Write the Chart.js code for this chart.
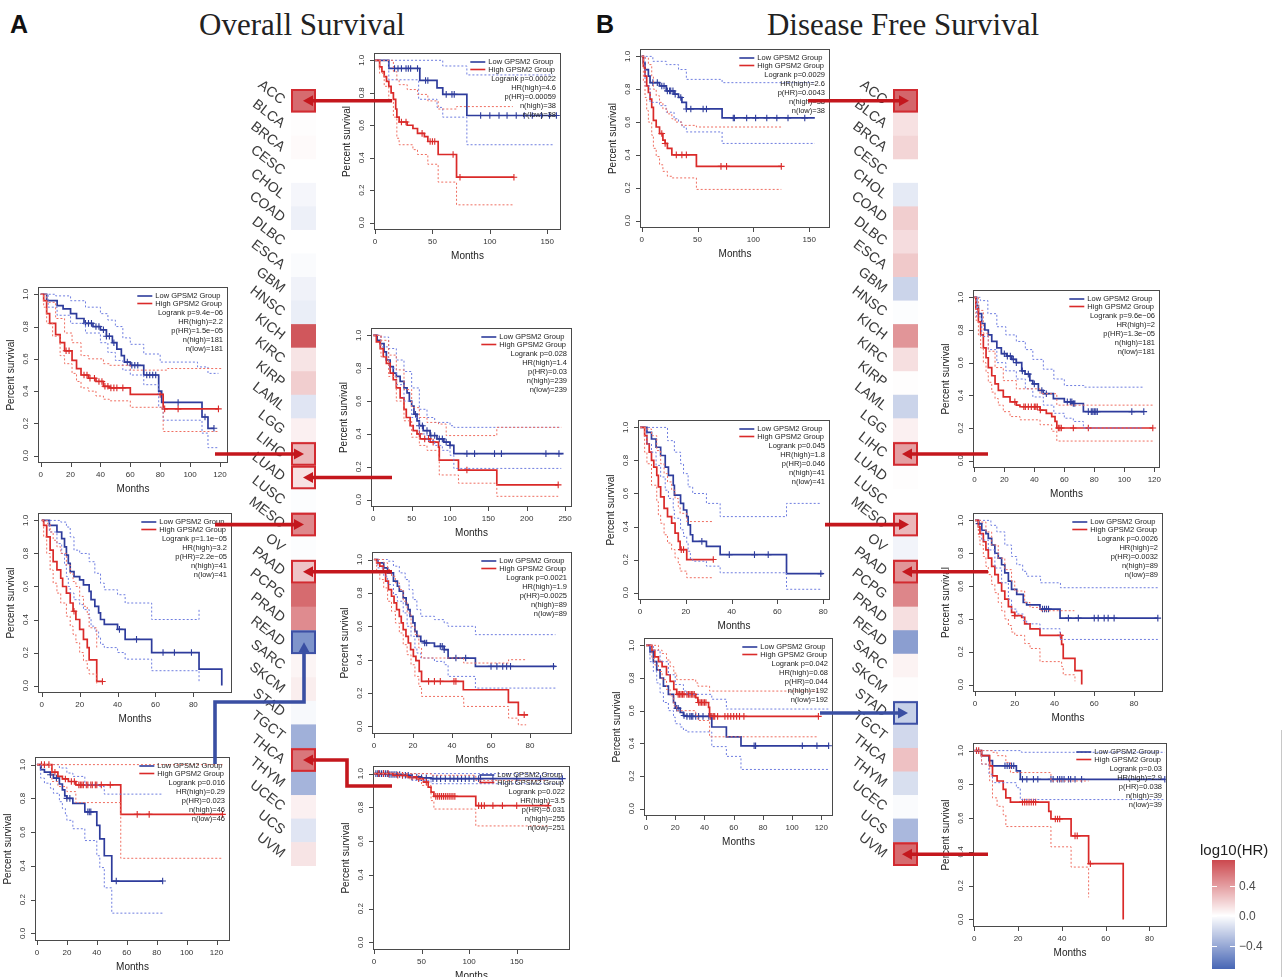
<!DOCTYPE html>
<html><head><meta charset="utf-8">
<script src="https://cdn.jsdelivr.net/npm/chart.js@4.4.1/dist/chart.umd.min.js"></script>
<style>
body{margin:0;background:#fff;}
#page{position:relative;width:1285px;height:977px;overflow:hidden;background:#fff;font-family:"Liberation Sans",Arial,sans-serif;}
#page canvas{position:absolute;}
.t{position:absolute;white-space:nowrap;line-height:1;}
</style></head><body><div id="page">
<div class="t" style="left:10px;top:10px;font:bold 25px 'Liberation Sans';color:#111">A</div>
<div class="t" style="left:102px;top:7px;width:400px;text-align:center;font:31px 'Liberation Serif';color:#222">Overall Survival</div>
<div class="t" style="left:596px;top:10px;font:bold 25px 'Liberation Sans';color:#111">B</div>
<div class="t" style="left:703px;top:7px;width:400px;text-align:center;font:31px 'Liberation Serif';color:#222">Disease Free Survival</div>
</div>
<script>
// ---------- heatmap data ----------
const cancers = ['ACC','BLCA','BRCA','CESC','CHOL','COAD','DLBC','ESCA','GBM','HNSC','KICH','KIRC','KIRP','LAML','LGG','LIHC','LUAD','LUSC','MESO','OV','PAAD','PCPG','PRAD','READ','SARC','SKCM','STAD','TGCT','THCA','THYM','UCEC','UCS','UVM'];
const osLogHR  = [0.6,0.01,0.02,0.0,-0.04,-0.07,0.0,-0.02,-0.06,-0.08,0.68,0.11,0.2,-0.12,0.06,0.29,0.12,-0.01,0.48,-0.01,0.24,0.6,0.47,-0.5,0.04,0.07,-0.03,-0.37,0.55,-0.35,0.06,-0.12,0.11];
const dfsLogHR = [0.62,0.12,0.17,0.0,-0.1,0.2,0.14,0.22,-0.2,-0.01,0.43,0.13,0.01,-0.2,0.06,0.39,0.01,0.0,0.29,-0.05,0.43,0.49,0.13,-0.45,0.05,0.01,-0.22,-0.18,0.25,-0.15,-0.02,-0.33,0.6];
const colorbarTicks = [0.4, 0.0, -0.4];
const osHighlight  = {ACC:'red',LIHC:'red',LUAD:'red',MESO:'red',PAAD:'red',READ:'blue',THCA:'red'};
const dfsHighlight = {ACC:'red',LIHC:'red',MESO:'red',PAAD:'red',STAD:'blue',UVM:'red'};

// ---------- tick labels ----------
const yTicks = [0,0.2,0.4,0.6,0.8,1.0];
const xTicks80 = [0,20,40,60,80];
const xTicks120 = [0,20,40,60,80,100,120];
const xTicks150 = [0,50,100,150];
const xTicks250 = [0,50,100,150,200,250];
const groupNames = ['Low GPSM2 Group','High GPSM2 Group'];

// ---------- OS ACC ----------
const os_ACC_low  = [[0,1],[12,0.95],[39,0.876],[54,0.83],[59,0.79],[80,0.66],[158,0.66]];
const os_ACC_high = [[0,1],[4,0.96],[6,0.93],[8,0.9],[10,0.87],[12,0.84],[14,0.8],[16,0.76],[18,0.7],[19,0.65],[21,0.62],[28,0.6],[33,0.58],[37,0.55],[43,0.53],[46,0.5],[55,0.42],[71,0.28],[121,0.28]];
const os_ACC_lowU = [[0,1],[55,1],[59,0.965],[80,0.91],[155,0.91]];
const os_ACC_lowL = [[0,1],[12,0.88],[38,0.76],[54,0.71],[59,0.65],[80,0.48],[155,0.48]];
const os_ACC_highU = [[0,1],[12,1],[16,0.93],[19,0.88],[21,0.85],[28,0.82],[37,0.79],[46,0.75],[55,0.7],[71,0.715],[120,0.715]];
const os_ACC_highL = [[0,1],[4,0.92],[8,0.84],[12,0.75],[16,0.65],[19,0.52],[21,0.48],[33,0.45],[37,0.42],[46,0.36],[55,0.25],[71,0.11],[120,0.11]];
const os_ACC_lowCens = [17,20,23,27,29,31,37,44,46,62,67,69,92,100,108,115,123,130,137,145,152,158];
const os_ACC_highCens = [23,27,41,48,50,52,68,74,121];
const os_ACC_stats = ['Logrank p=0.00022','HR(high)=4.6','p(HR)=0.00059','n(high)=38','n(low)=38'];

// ---------- OS LIHC ----------
const os_LIHC_low  = [[0,1],[4,0.96],[11,0.93],[15,0.91],[20,0.88],[24,0.85],[29,0.82],[35,0.8],[40,0.78],[44,0.74],[48,0.7],[51,0.66],[54,0.62],[56,0.58],[60,0.56],[69,0.5],[79,0.4],[81,0.33],[108,0.24],[112,0.17],[116,0.17]];
const os_LIHC_high = [[0,1],[2,0.96],[4,0.88],[6,0.82],[10,0.75],[13,0.7],[16,0.65],[21,0.59],[24,0.54],[27,0.5],[32,0.48],[37,0.46],[42,0.43],[46,0.42],[60,0.38],[82,0.29],[119,0.29]];
const os_LIHC_lowU = [[0,1],[10,0.99],[20,0.96],[30,0.92],[40,0.88],[45,0.84],[50,0.8],[55,0.73],[60,0.69],[69,0.63],[80,0.58],[105,0.55],[112,0.51],[119,0.51]];
const os_LIHC_lowL = [[0,1],[5,0.92],[11,0.87],[20,0.82],[30,0.76],[40,0.7],[45,0.64],[50,0.59],[55,0.53],[60,0.5],[69,0.44],[79,0.3],[82,0.22],[108,0.14],[112,0.05],[119,0.05]];
const os_LIHC_highU = [[0,1],[4,0.95],[10,0.85],[16,0.76],[21,0.7],[27,0.62],[32,0.6],[42,0.57],[46,0.56],[60,0.53],[85,0.54],[122,0.54]];
const os_LIHC_highL = [[0,1],[2,0.92],[4,0.82],[8,0.74],[13,0.62],[16,0.57],[21,0.51],[24,0.46],[27,0.42],[32,0.4],[37,0.37],[42,0.35],[46,0.34],[60,0.3],[82,0.15],[119,0.15]];
const os_LIHC_lowCens = [30,32,34,37,39,42,44,46,49,58,61,63,65,71,73,75,77,92,110,116];
const os_LIHC_highCens = [17,19,29,31,33,36,39,41,43,45,47,49,51,55,80,83,92,119];
const os_LIHC_stats = ['Logrank p=9.4e\u221206','HR(high)=2.2','p(HR)=1.5e\u221205','n(high)=181','n(low)=181'];

// ---------- OS LUAD ----------
const os_LUAD_low  = [[0,1],[5,0.97],[9,0.95],[14,0.9],[17,0.85],[22,0.81],[26,0.77],[30,0.75],[35,0.72],[40,0.68],[44,0.65],[47,0.6],[50,0.57],[53,0.52],[57,0.48],[60,0.45],[65,0.42],[74,0.39],[83,0.37],[92,0.35],[100,0.33],[105,0.28],[248,0.28]];
const os_LUAD_high = [[0,1],[4,0.96],[9,0.92],[13,0.87],[17,0.83],[22,0.77],[26,0.73],[30,0.68],[35,0.62],[40,0.55],[43,0.5],[48,0.45],[52,0.42],[57,0.4],[61,0.37],[74,0.35],[85,0.32],[86,0.24],[111,0.18],[161,0.09],[241,0.09]];
const os_LUAD_lowU = [[0,1],[10,0.99],[20,0.92],[30,0.85],[40,0.78],[50,0.68],[60,0.55],[70,0.5],[80,0.47],[100,0.45],[105,0.44],[245,0.44]];
const os_LUAD_lowL = [[0,1],[10,0.93],[20,0.8],[30,0.7],[40,0.6],[50,0.5],[60,0.4],[70,0.36],[80,0.33],[90,0.3],[100,0.27],[105,0.19],[245,0.19]];
const os_LUAD_highU = [[0,1],[10,0.97],[20,0.88],[30,0.79],[40,0.67],[50,0.56],[60,0.5],[70,0.47],[85,0.46],[95,0.39],[161,0.44],[245,0.44]];
const os_LUAD_highL = [[0,1],[10,0.87],[20,0.75],[30,0.6],[40,0.48],[50,0.38],[60,0.33],[70,0.3],[85,0.26],[86,0.15],[111,0.1],[161,0.02],[241,0.02]];
const os_LUAD_lowCens = [55,60,64,70,75,80,86,90,95,100,122,132,158,167,225,242];
const os_LUAD_highCens = [60,67,72,78,122,241];
const os_LUAD_stats = ['Logrank p=0.028','HR(high)=1.4','p(HR)=0.03','n(high)=239','n(low)=239'];

// ---------- OS MESO ----------
const os_MESO_low  = [[0,1],[4,0.97],[8,0.93],[10.5,0.89],[12,0.84],[13,0.79],[14,0.74],[15,0.69],[17,0.66],[20,0.64],[22,0.61],[25,0.57],[26,0.52],[28,0.48],[30,0.44],[31,0.4],[33,0.37],[40,0.34],[44,0.28],[58,0.2],[83,0.1],[95,0]];
const os_MESO_high = [[0,1],[1,0.97],[2.6,0.9],[4.4,0.82],[6,0.75],[8,0.7],[10,0.65],[11,0.6],[13,0.56],[15,0.5],[16.5,0.45],[18,0.4],[20,0.34],[22,0.28],[24,0.23],[25,0.155],[29,0.025],[32,0.025]];
const os_MESO_lowU = [[0,1],[10,0.99],[13,0.96],[15,0.9],[17,0.82],[20,0.8],[25,0.75],[28,0.68],[31,0.62],[33,0.58],[40,0.55],[44,0.5],[58,0.4],[83,0.46]];
const os_MESO_lowL = [[0,1],[4,0.93],[8,0.86],[10.5,0.8],[12,0.73],[13,0.66],[14,0.6],[15,0.56],[17,0.52],[20,0.49],[22,0.46],[25,0.41],[26,0.36],[28,0.33],[30,0.29],[31,0.25],[33,0.23],[40,0.2],[44,0.16],[58,0.09],[83,0.02]];
const os_MESO_highU = [[0,1],[1,1],[3,0.98],[4.4,0.93],[6,0.88],[8,0.84],[10,0.8],[13,0.73],[15,0.68],[16.5,0.63],[18,0.6],[20,0.54],[22,0.48],[24,0.43],[25,0.35],[29,0.23]];
const os_MESO_highL = [[0,1],[1,0.9],[2.6,0.8],[4.4,0.7],[6,0.62],[8,0.56],[10,0.5],[13,0.42],[15,0.36],[16.5,0.31],[18,0.26],[20,0.2],[22,0.15],[24,0.1],[25,0.07],[29,0.0]];
const os_MESO_lowCens = [41,50,64,70,79];
const os_MESO_highCens = [17,32];
const os_MESO_stats = ['Logrank p=1.1e\u221205','HR(high)=3.2','p(HR)=2.2e\u221205','n(high)=41','n(low)=41'];

// ---------- OS PAAD ----------
const os_PAAD_low  = [[0,1],[2,0.98],[5,0.95],[7,0.92],[10,0.87],[12,0.84],[13,0.81],[15,0.77],[16.5,0.73],[17.5,0.7],[18.5,0.66],[20,0.62],[21,0.57],[22,0.54],[24,0.51],[26,0.5],[31,0.48],[36,0.46],[38,0.41],[52,0.36],[93,0.36]];
const os_PAAD_high = [[0,1],[1.4,0.98],[3,0.96],[4.8,0.93],[6,0.87],[7.4,0.82],[9,0.78],[10.3,0.74],[11.6,0.7],[13,0.66],[14,0.62],[15,0.58],[16.4,0.54],[17.6,0.5],[18.8,0.46],[20.2,0.42],[21.5,0.395],[23.2,0.33],[24.4,0.27],[45.8,0.22],[68.9,0.145],[74,0.07],[79,0.07]];
const os_PAAD_lowU = [[0,1],[3,1],[7,0.99],[10,0.96],[13,0.92],[16,0.88],[18,0.82],[20,0.76],[22,0.7],[24,0.66],[31,0.64],[36,0.62],[38,0.6],[52,0.55],[93,0.55]];
const os_PAAD_lowL = [[0,1],[2,0.95],[5,0.9],[7,0.85],[10,0.79],[12,0.75],[15,0.68],[17,0.6],[19,0.54],[21,0.47],[22,0.44],[24,0.41],[31,0.39],[36,0.37],[38,0.3],[52,0.23],[93,0.23]];
const os_PAAD_highU = [[0,1],[3,1],[5,0.98],[7,0.94],[9,0.9],[11,0.86],[13,0.82],[15,0.75],[17,0.68],[19,0.6],[21,0.55],[23,0.47],[24.4,0.41],[46,0.38],[69,0.4],[78,0.4]];
const os_PAAD_highL = [[0,1],[1.4,0.93],[3,0.88],[5,0.83],[7,0.75],[9,0.69],[11,0.62],[13,0.56],[15,0.49],[17,0.43],[19,0.37],[21,0.3],[23,0.24],[24.4,0.18],[46,0.12],[69,0.05],[74,0.01],[78,0.01]];
const os_PAAD_lowCens = [26,27,34,35,36,42,47,60,63,66,68,70,92];
const os_PAAD_highCens = [28,31,34,41,42,77];
const os_PAAD_stats = ['Logrank p=0.0021','HR(high)=1.9','p(HR)=0.0025','n(high)=89','n(low)=89'];

// ---------- OS READ ----------
const os_READ_low  = [[0,1],[2.5,0.97],[5,0.955],[9,0.94],[11,0.92],[15,0.885],[17,0.85],[18.6,0.815],[20,0.8],[24,0.77],[32,0.72],[40,0.64],[42,0.56],[45,0.46],[50,0.31],[84,0.31]];
const os_READ_high = [[0,1],[10,0.955],[14,0.93],[17,0.915],[21,0.9],[26,0.88],[56,0.705],[124,0.705]];
const os_READ_lowU = [[0,1],[11,1],[15,0.98],[20,0.95],[24,0.93],[32,0.88],[42,0.87],[45,0.825],[84,0.825]];
const os_READ_lowL = [[0,1],[2.5,0.92],[5,0.89],[9,0.86],[11,0.83],[15,0.78],[17,0.74],[19,0.7],[20,0.67],[24,0.62],[32,0.55],[40,0.46],[42,0.39],[45,0.27],[50,0.12],[84,0.12]];
const os_READ_highU = [[0,1],[124,1]];
const os_READ_highL = [[0,1],[10,0.9],[14,0.87],[20,0.84],[26,0.775],[56,0.445],[124,0.445]];
const os_READ_lowCens = [9,13,20,22,34,35,36,53,84];
const os_READ_highCens = [3,5,8,12,19,23,25,28,29,30,31,33,34,36,37,39,40,43,49,67,75,124];
const os_READ_stats = ['Logrank p=0.016','HR(high)=0.29','p(HR)=0.023','n(high)=46','n(low)=46'];

// ---------- OS THCA ----------
const os_THCA_low  = [[0,1],[15,0.995],[30,0.99],[40,0.98],[50,0.975],[60,0.97],[198,0.97]];
const os_THCA_high = [[0,1],[20,0.99],[35,0.98],[45,0.97],[52,0.95],[57,0.92],[60,0.89],[63,0.865],[107,0.81],[183,0.81]];
const os_THCA_lowU = [[0,1],[198,1]];
const os_THCA_lowL = [[0,1],[40,0.96],[60,0.94],[198,0.94]];
const os_THCA_highU = [[0,1],[60,0.99],[107,0.96],[183,0.96]];
const os_THCA_highL = [[0,1],[35,0.97],[50,0.93],[60,0.84],[63,0.79],[107,0.69],[183,0.69]];
const os_THCA_lowCens = [2,4,6,8,10,12,14,16,18,20,22,24,27,30,33,36,40,45,50,55,62,66,70,75,80,84,88,92,96,100,105,110,112,125,150,175,198];
const os_THCA_highCens = [5,10,15,25,30,40,47,55,65,67,69,71,73,75,77,79,81,83,85,110,113,116,125,135,150,183];
const os_THCA_stats = ['Logrank p=0.022','HR(high)=3.5','p(HR)=0.031','n(high)=255','n(low)=251'];

// ---------- DFS ACC ----------
const dfs_ACC_low  = [[0,1],[1.5,0.96],[3,0.92],[6,0.88],[7.5,0.84],[16,0.82],[22,0.79],[29,0.77],[33,0.75],[36,0.72],[40,0.68],[72,0.625],[155,0.625]];
const dfs_ACC_high = [[0,1],[1.5,0.94],[3,0.88],[4.5,0.82],[6,0.78],[7.5,0.74],[9,0.69],[10.5,0.61],[13,0.57],[16,0.53],[19,0.49],[21,0.47],[23,0.44],[27,0.4],[49,0.33],[125,0.33]];
const dfs_ACC_lowU = [[0,1],[7,1],[10,0.97],[22,0.95],[33,0.92],[40,0.86],[72,0.84],[155,0.84]];
const dfs_ACC_lowL = [[0,1],[3,0.82],[7.5,0.72],[16,0.7],[22,0.66],[29,0.62],[33,0.6],[36,0.57],[40,0.54],[72,0.47],[155,0.47]];
const dfs_ACC_highU = [[0,1],[3,0.99],[6,0.95],[9,0.88],[10.5,0.8],[13,0.76],[16,0.72],[19,0.68],[23,0.65],[27,0.62],[30,0.6],[36,0.58],[49,0.57],[125,0.57]];
const dfs_ACC_highL = [[0,1],[1.5,0.85],[3,0.75],[4.5,0.67],[6,0.6],[9,0.52],[10.5,0.44],[13,0.39],[16,0.34],[19,0.3],[23,0.27],[27,0.26],[49,0.19],[125,0.19]];
const dfs_ACC_lowCens = [10,14,18,20,23,25,26,28,30,35,40,44,55,58,82,83,94,102,112,121,131,146];
const dfs_ACC_highCens = [18,21,31,36,40,71,76,125];
const dfs_ACC_stats = ['Logrank p=0.0029','HR(high)=2.6','p(HR)=0.0043','n(high)=38','n(low)=38'];

// ---------- DFS LIHC ----------
const dfs_LIHC_low  = [[0,1],[1.5,0.95],[2.7,0.9],[4.9,0.84],[7,0.8],[9.3,0.77],[11.6,0.73],[15,0.69],[18,0.655],[21.6,0.64],[25,0.62],[28,0.6],[31.6,0.55],[33.8,0.53],[37,0.49],[39,0.47],[42.7,0.43],[46,0.41],[52.7,0.38],[60,0.36],[66,0.35],[72.7,0.3],[113,0.3]];
const dfs_LIHC_high = [[0,1],[1,0.93],[2.7,0.85],[4.2,0.77],[6,0.69],[7.8,0.63],[9.3,0.57],[11.6,0.52],[13.8,0.47],[16,0.43],[19.3,0.39],[23.8,0.36],[28,0.34],[30.4,0.33],[43.8,0.31],[48,0.29],[51.6,0.27],[53.8,0.24],[55,0.2],[119,0.2]];
const dfs_LIHC_lowU = [[0,1],[4,0.98],[9,0.9],[15,0.82],[21,0.77],[28,0.73],[34,0.68],[39,0.62],[46,0.56],[53,0.5],[60,0.46],[73,0.45],[113,0.45]];
const dfs_LIHC_lowL = [[0,1],[1.5,0.88],[4.9,0.76],[9.3,0.68],[15,0.6],[21,0.55],[28,0.5],[34,0.44],[39,0.39],[46,0.34],[53,0.29],[60,0.26],[66,0.24],[72.7,0.2],[113,0.2]];
const dfs_LIHC_highU = [[0,1],[2.7,0.92],[6,0.78],[9.3,0.67],[13.8,0.57],[19.3,0.49],[28,0.44],[43.8,0.41],[55,0.34],[119,0.34]];
const dfs_LIHC_highL = [[0,1],[1,0.86],[2.7,0.77],[4.2,0.69],[6,0.6],[7.8,0.54],[9.3,0.48],[11.6,0.42],[13.8,0.38],[16,0.34],[19.3,0.3],[23.8,0.27],[30.4,0.25],[43.8,0.22],[51.6,0.18],[55,0.12],[119,0.12]];
const dfs_LIHC_lowCens = [20,22,24,26,28,32,36,40,45,48,62,64,65,66,67,76,78,79,80,81,82,105,113];
const dfs_LIHC_highCens = [27,33,34,36,38,40,41,42,44,56,57,58,66,76,119];
const dfs_LIHC_stats = ['Logrank p=9.6e\u221206','HR(high)=2','p(HR)=1.3e\u221205','n(high)=181','n(low)=181'];

// ---------- DFS MESO ----------
const dfs_MESO_low  = [[0,1],[3,0.97],[5,0.93],[7,0.88],[9,0.83],[11,0.76],[12.4,0.71],[14.5,0.65],[15,0.59],[17.7,0.54],[19,0.5],[20.4,0.46],[21,0.41],[22,0.35],[23,0.31],[29,0.28],[35,0.23],[64,0.115],[80,0.115]];
const dfs_MESO_high = [[0,1],[2,0.95],[3,0.9],[4,0.85],[5,0.8],[6,0.76],[7.3,0.71],[8,0.64],[9,0.58],[10.5,0.51],[12,0.46],[13.8,0.42],[15.3,0.36],[16.7,0.31],[17.5,0.26],[20.4,0.2],[32,0.2]];
const dfs_MESO_lowU = [[0,1],[9,1],[12,0.92],[15,0.85],[17.7,0.78],[19,0.72],[21,0.64],[23,0.6],[29,0.54],[35,0.46],[64,0.54],[79,0.54]];
const dfs_MESO_lowL = [[0,1],[3,0.9],[5,0.85],[7,0.77],[9,0.7],[11,0.62],[12.4,0.57],[14.5,0.5],[15,0.45],[17.7,0.38],[19,0.34],[20.4,0.3],[21,0.25],[22,0.2],[23,0.19],[29,0.16],[35,0.12],[64,0.02],[79,0.02]];
const dfs_MESO_highU = [[0,1],[3,0.99],[5,0.95],[7.3,0.86],[9,0.78],[10.5,0.72],[12,0.67],[13.8,0.62],[15.3,0.57],[16.7,0.52],[17.5,0.48],[20.4,0.43],[32,0.43]];
const dfs_MESO_highL = [[0,1],[2,0.85],[3,0.78],[5,0.65],[7.3,0.55],[8,0.47],[9,0.42],[10.5,0.35],[12,0.3],[13.8,0.26],[15.3,0.21],[16.7,0.17],[17.5,0.13],[20.4,0.09],[32,0.09]];
const dfs_MESO_lowCens = [27,39,50,56,79];
const dfs_MESO_highCens = [18,19,32];
const dfs_MESO_stats = ['Logrank p=0.045','HR(high)=1.8','p(HR)=0.046','n(high)=41','n(low)=41'];

// ---------- DFS PAAD ----------
const dfs_PAAD_low  = [[0,1],[1.7,0.98],[3.4,0.94],[5.5,0.92],[6.7,0.89],[8.4,0.85],[10,0.8],[11.7,0.77],[13.4,0.73],[15,0.68],[16.8,0.63],[18.4,0.58],[21,0.55],[24.3,0.5],[26,0.485],[32.7,0.46],[42.8,0.405],[92,0.405]];
const dfs_PAAD_high = [[0,1],[1.7,0.96],[2.5,0.92],[4.2,0.87],[5.5,0.82],[6.7,0.77],[8.4,0.72],[10,0.67],[11.7,0.62],[13.4,0.57],[15,0.52],[16.8,0.475],[18.4,0.44],[20,0.42],[23.5,0.41],[25,0.37],[27.7,0.34],[32.7,0.3],[43.6,0.245],[44.4,0.16],[50.3,0.085],[53.7,0]];
const dfs_PAAD_lowU = [[0,1],[5,1],[8,0.97],[11,0.93],[15,0.85],[18.4,0.78],[21,0.73],[24,0.69],[26,0.66],[33,0.62],[43,0.59],[92,0.59]];
const dfs_PAAD_lowL = [[0,1],[1.7,0.94],[3.4,0.88],[6.7,0.82],[10,0.71],[13.4,0.62],[16.8,0.52],[18.4,0.46],[21,0.43],[24.3,0.39],[26,0.37],[32.7,0.34],[42.8,0.275],[92,0.275]];
const dfs_PAAD_highU = [[0,1],[3,0.99],[5.5,0.93],[8.4,0.85],[11.7,0.77],[15,0.7],[18.4,0.63],[20,0.57],[25,0.5],[27.7,0.47],[32.7,0.45],[50,0.45]];
const dfs_PAAD_highL = [[0,1],[1.7,0.9],[2.5,0.85],[4.2,0.78],[5.5,0.72],[6.7,0.67],[8.4,0.61],[10,0.56],[11.7,0.5],[13.4,0.45],[15,0.4],[16.8,0.36],[18.4,0.32],[20,0.3],[25,0.25],[27.7,0.22],[32.7,0.14],[43.6,0.11],[44.4,0.06],[50.3,0.02]];
const dfs_PAAD_lowCens = [2,34,35,36,37,47,52,60,62,65,67,70,92];
const dfs_PAAD_highCens = [20,43];
const dfs_PAAD_stats = ['Logrank p=0.0026','HR(high)=2','p(HR)=0.0032','n(high)=89','n(low)=89'];

// ---------- DFS STAD ----------
const dfs_STAD_low  = [[0,1],[2.7,0.96],[5,0.9],[7.3,0.85],[9.6,0.8],[11.9,0.75],[15.3,0.7],[18.8,0.65],[20,0.615],[23.4,0.59],[25.6,0.57],[28,0.565],[45,0.5],[55,0.44],[65,0.385],[125,0.385]];
const dfs_STAD_high = [[0,1],[4,0.97],[6,0.93],[8.5,0.9],[11,0.87],[14,0.82],[16.5,0.78],[19,0.73],[21,0.7],[34,0.68],[35.5,0.65],[42.8,0.62],[43.5,0.565],[118,0.565]];
const dfs_STAD_lowU = [[0,1],[5,0.97],[9.6,0.9],[15.3,0.82],[20,0.76],[25.6,0.72],[28,0.7],[45,0.67],[55,0.61],[125,0.61]];
const dfs_STAD_lowL = [[0,1],[2.7,0.9],[5,0.84],[7.3,0.77],[9.6,0.71],[11.9,0.65],[15.3,0.6],[18.8,0.56],[20,0.52],[23.4,0.5],[25.6,0.48],[28,0.47],[45,0.38],[55,0.32],[65,0.24],[125,0.24]];
const dfs_STAD_highU = [[0,1],[6,1],[8.5,0.97],[11,0.95],[14,0.91],[16.5,0.87],[19,0.83],[21,0.79],[34,0.77],[35.5,0.75],[43.5,0.72],[118,0.72]];
const dfs_STAD_highL = [[0,1],[4,0.92],[6,0.88],[8.5,0.84],[11,0.79],[14,0.73],[16.5,0.69],[19,0.63],[21,0.6],[34,0.57],[35.5,0.54],[43.5,0.44],[118,0.44]];
const dfs_STAD_lowCens = [21,22,26,28,30,31,32,34,36,39,43,74,75,107,117,125];
const dfs_STAD_highCens = [22,23,24,25,26,28,29,30,31,32,33,36,37,38,39,40,41,44,45,46,47,49,54,56,58,60,62,64,67,118];
const dfs_STAD_stats = ['Logrank p=0.042','HR(high)=0.68','p(HR)=0.044','n(high)=192','n(low)=192'];

// ---------- DFS UVM ----------
const dfs_UVM_low  = [[0,1],[3.3,0.97],[6.7,0.94],[8.3,0.91],[19.2,0.88],[21,0.83],[87,0.83]];
const dfs_UVM_high = [[0,1],[3.3,0.97],[7,0.91],[8.3,0.85],[10.4,0.82],[13.2,0.77],[14.4,0.72],[16.5,0.695],[34,0.64],[35,0.595],[44.2,0.495],[52.2,0.33],[68,0]];
const dfs_UVM_lowU = [[0,1],[21,1],[21.5,0.99],[87,0.99]];
const dfs_UVM_lowL = [[0,1],[3.3,0.92],[6.7,0.86],[8.3,0.81],[19.2,0.78],[21,0.71],[87,0.71]];
const dfs_UVM_highU = [[0,1],[8.3,0.99],[10.4,0.97],[14.4,0.93],[16.5,0.87],[34,0.87],[35,0.82],[52.2,0.82]];
const dfs_UVM_highL = [[0,1],[3.3,0.92],[7,0.82],[8.3,0.72],[10.4,0.67],[13.2,0.62],[14.4,0.55],[34,0.55],[35,0.43],[44.2,0.31],[52.2,0.13]];
const dfs_UVM_lowCens = [14,15,16,17,18,22,24,27,29,35,36,38,39,40,41,43,44,46,49,87];
const dfs_UVM_highCens = [1,2,22,23,24,25,26,27,28,37,38,39,46,47,53];
const dfs_UVM_stats = ['Logrank p=0.03','HR(high)=2.9','p(HR)=0.038','n(high)=39','n(low)=39'];

// ---------- layout ----------
const kmPlots = [
 {frame:[374,53,561,230], xr:[-0.9,162], xt:xTicks150, low:os_ACC_low, high:os_ACC_high, lowU:os_ACC_lowU, lowL:os_ACC_lowL, highU:os_ACC_highU, highL:os_ACC_highL, lowC:os_ACC_lowCens, highC:os_ACC_highCens, stats:os_ACC_stats},
 {frame:[38,287,228,463], xr:[-1.8,125.4], xt:xTicks120, low:os_LIHC_low, high:os_LIHC_high, lowU:os_LIHC_lowU, lowL:os_LIHC_lowL, highU:os_LIHC_highU, highL:os_LIHC_highL, lowC:os_LIHC_lowCens, highC:os_LIHC_highCens, stats:os_LIHC_stats},
 {frame:[371,328,572,507], xr:[-3,259], xt:xTicks250, low:os_LUAD_low, high:os_LUAD_high, lowU:os_LUAD_lowU, lowL:os_LUAD_lowL, highU:os_LUAD_highU, highL:os_LUAD_highL, lowC:os_LUAD_lowCens, highC:os_LUAD_highCens, stats:os_LUAD_stats},
 {frame:[38,513,232,693], xr:[-2,100.4], xt:xTicks80, low:os_MESO_low, high:os_MESO_high, lowU:os_MESO_lowU, lowL:os_MESO_lowL, highU:os_MESO_highU, highL:os_MESO_highL, lowC:os_MESO_lowCens, highC:os_MESO_highCens, stats:os_MESO_stats},
 {frame:[372,552,572,734], xr:[-1,101.5], xt:xTicks80, low:os_PAAD_low, high:os_PAAD_high, lowU:os_PAAD_lowU, lowL:os_PAAD_lowL, highU:os_PAAD_highU, highL:os_PAAD_highL, lowC:os_PAAD_lowCens, highC:os_PAAD_highCens, stats:os_PAAD_stats},
 {frame:[35,757,230,941], xr:[-1.3,129], xt:xTicks120, low:os_READ_low, high:os_READ_high, lowU:os_READ_lowU, lowL:os_READ_lowL, highU:os_READ_highU, highL:os_READ_highL, lowC:os_READ_lowCens, highC:os_READ_highCens, stats:os_READ_stats},
 {frame:[373,766,570,950], xr:[-1,206], xt:xTicks150, low:os_THCA_low, high:os_THCA_high, lowU:os_THCA_lowU, lowL:os_THCA_lowL, highU:os_THCA_highU, highL:os_THCA_highL, lowC:os_THCA_lowCens, highC:os_THCA_highCens, stats:os_THCA_stats},
 {frame:[640,49,830,228], xr:[-1.5,168.6], xt:xTicks150, low:dfs_ACC_low, high:dfs_ACC_high, lowU:dfs_ACC_lowU, lowL:dfs_ACC_lowL, highU:dfs_ACC_highU, highL:dfs_ACC_highL, lowC:dfs_ACC_lowCens, highC:dfs_ACC_highCens, stats:dfs_ACC_stats},
 {frame:[973,290,1160,468], xr:[-0.9,123.8], xt:xTicks120, low:dfs_LIHC_low, high:dfs_LIHC_high, lowU:dfs_LIHC_lowU, lowL:dfs_LIHC_lowL, highU:dfs_LIHC_highU, highL:dfs_LIHC_highL, lowC:dfs_LIHC_lowCens, highC:dfs_LIHC_highCens, stats:dfs_LIHC_stats},
 {frame:[638,420,830,600], xr:[-0.9,83], xt:xTicks80, low:dfs_MESO_low, high:dfs_MESO_high, lowU:dfs_MESO_lowU, lowL:dfs_MESO_lowL, highU:dfs_MESO_highU, highL:dfs_MESO_highL, lowC:dfs_MESO_lowCens, highC:dfs_MESO_highCens, stats:dfs_MESO_stats},
 {frame:[973,513,1163,692], xr:[-1,94.6], xt:xTicks80, low:dfs_PAAD_low, high:dfs_PAAD_high, lowU:dfs_PAAD_lowU, lowL:dfs_PAAD_lowL, highU:dfs_PAAD_highU, highL:dfs_PAAD_highL, lowC:dfs_PAAD_lowCens, highC:dfs_PAAD_highCens, stats:dfs_PAAD_stats},
 {frame:[644,638,833,816], xr:[-1.4,128], xt:xTicks120, low:dfs_STAD_low, high:dfs_STAD_high, lowU:dfs_STAD_lowU, lowL:dfs_STAD_lowL, highU:dfs_STAD_highU, highL:dfs_STAD_highL, lowC:dfs_STAD_lowCens, highC:dfs_STAD_highCens, stats:dfs_STAD_stats},
 {frame:[973,743,1167,927], xr:[-0.6,88], xt:xTicks80, low:dfs_UVM_low, high:dfs_UVM_high, lowU:dfs_UVM_lowU, lowL:dfs_UVM_lowL, highU:dfs_UVM_highU, highL:dfs_UVM_highL, lowC:dfs_UVM_lowCens, highC:dfs_UVM_highCens, stats:dfs_UVM_stats}
];

const RED='#da2a29', BLUE='#2e3c9c', RED_CI='#ef6f62', BLUE_CI='#6f7ee0';
const ARROW_RED='#c4171d', ARROW_BLUE='#3a4fa3', BOX_RED='#d22a30', BOX_BLUE='#3d50a5';

const page=document.getElementById('page');
function addCanvas(l,t,w,h,z){const c=document.createElement('canvas');c.width=w;c.height=h;c.style.left=l+'px';c.style.top=t+'px';c.style.width=w+'px';c.style.height=h+'px';if(z)c.style.zIndex=z;page.appendChild(c);return c;}
const pts=a=>a.map(p=>({x:p[0],y:p[1]}));
function stepAt(curve,t){let v=curve[0][1];for(const p of curve){if(p[0]<=t)v=p[1];else break;}return v;}
function lineDS(a,color,w,dash){return{data:pts(a),borderColor:color,borderWidth:w,borderDash:dash,stepped:true,pointRadius:0,fill:false,tension:0};}
function censDS(curve,times,color){return{data:times.map(t=>({x:t,y:stepAt(curve,t)})),showLine:false,pointStyle:'cross',pointRadius:3.3,pointBorderColor:color,pointBorderWidth:1.1,borderColor:color};}

function makeDecor(cfg){return{id:'kmDecor',afterDraw(chart){
  const c=chart.ctx,a=chart.chartArea,xs=chart.scales.x,ys=chart.scales.y;
  c.save();
  c.strokeStyle='#4a4a4a';c.lineWidth=1;c.setLineDash([]);
  c.strokeRect(Math.round(a.left)+0.5,Math.round(a.top)+0.5,Math.round(a.right-a.left)-1,Math.round(a.bottom-a.top)-1);
  c.beginPath();
  cfg.xt.forEach(v=>{const x=Math.round(xs.getPixelForValue(v))+0.5;c.moveTo(x,a.bottom);c.lineTo(x,a.bottom+4);});
  yTicks.forEach(v=>{const y=Math.round(ys.getPixelForValue(v))+0.5;c.moveTo(a.left,y);c.lineTo(a.left-4,y);});
  c.stroke();
  c.fillStyle='#333';c.font='8px "Liberation Sans"';c.textAlign='center';c.textBaseline='middle';
  cfg.xt.forEach(v=>c.fillText(String(v),xs.getPixelForValue(v),a.bottom+12));
  yTicks.forEach(v=>{c.save();c.translate(a.left-12,ys.getPixelForValue(v));c.rotate(-Math.PI/2);c.fillText(v.toFixed(1),0,0);c.restore();});
  c.font='10px "Liberation Sans"';c.fillStyle='#222';
  c.fillText('Months',(a.left+a.right)/2,a.bottom+26);
  c.save();c.translate(a.left-27,(a.top+a.bottom)/2);c.rotate(-Math.PI/2);c.fillText('Percent survival',0,0);c.restore();
  // legend
  c.font='7.5px "Liberation Sans"';c.fillStyle='#222';
  const R=a.right-5, tw=c.measureText(groupNames[1]).width, tl=R-1-tw;
  const rows=[9,16.5,26,35,44,53,62];
  c.textAlign='left';
  [[BLUE,groupNames[0]],[RED,groupNames[1]]].forEach((g,i)=>{
    const y=a.top+rows[i];
    c.strokeStyle=g[0];c.lineWidth=1.6;c.beginPath();c.moveTo(tl-18,y);c.lineTo(tl-3,y);c.stroke();
    c.fillText(g[1],tl,y);
  });
  c.textAlign='right';
  cfg.stats.forEach((s,i)=>c.fillText(s,R,a.top+rows[i+2]));
  c.restore();
}};}

function makeKM(cfg){
  const padL=42,padT=6,padR=6,padB=34;
  const [L,T,R,B]=cfg.frame;
  const W=R-L+padL+padR,H=B-T+padT+padB;
  const cv=addCanvas(L-padL,T-padT,W,H);
  return new Chart(cv,{type:'line',
    data:{datasets:[
      lineDS(cfg.highU,RED_CI,1,[2,2]),lineDS(cfg.highL,RED_CI,1,[2,2]),
      lineDS(cfg.lowU,BLUE_CI,1,[2,2]),lineDS(cfg.lowL,BLUE_CI,1,[2,2]),
      lineDS(cfg.high,RED,1.7,[]),lineDS(cfg.low,BLUE,1.7,[]),
      censDS(cfg.high,cfg.highC,RED),censDS(cfg.low,cfg.lowC,BLUE)]},
    options:{responsive:false,animation:false,devicePixelRatio:1,events:[],
      layout:{padding:{left:padL,top:padT,right:padR,bottom:padB}},
      scales:{x:{type:'linear',min:cfg.xr[0],max:cfg.xr[1],display:false},y:{type:'linear',min:-0.045,max:1.045,display:false}},
      plugins:{legend:{display:false},tooltip:{enabled:false}}},
    plugins:[makeDecor(cfg)]});
}
const kmCharts=kmPlots.map(makeKM);

// ---------- heatmaps ----------
function heatColor(v){
  const t=Math.max(-1,Math.min(1,v/0.74)),a=Math.abs(t);
  const e=t>=0?[204,72,78]:[64,96,178];
  return 'rgb('+e.map(c=>Math.round(255+(c-255)*a)).join(',')+')';
}
const heatLabels={id:'heatLabels',afterDraw(chart){
  const c=chart.ctx,a=chart.chartArea,ys=chart.scales.y;
  c.save();c.font='14px "Liberation Sans"';c.fillStyle='#3c3c3c';c.textAlign='right';c.textBaseline='middle';
  cancers.forEach((n,i)=>{c.save();c.translate(a.left-8,ys.getPixelForValue(i)+1);c.rotate(38*Math.PI/180);c.fillText(n,0,0);c.restore();});
  c.restore();
}};
function makeHeat(cellLeft,vals){
  const padL=80,padT=30,padR=6,padB=6,top=89,H=Math.round(33*23.55);
  const cv=addCanvas(cellLeft-padL,top-padT,padL+25+padR,H+padT+padB);
  return new Chart(cv,{type:'bar',
    data:{labels:cancers,datasets:[{data:vals.map(()=>[0,1]),backgroundColor:vals.map(heatColor),borderWidth:0,barPercentage:1,categoryPercentage:1}]},
    options:{indexAxis:'y',responsive:false,animation:false,devicePixelRatio:1,events:[],
      layout:{padding:{left:padL,top:padT,right:padR,bottom:padB}},
      scales:{x:{type:'linear',min:0,max:1,display:false},y:{type:'category',display:false,offset:true}},
      plugins:{legend:{display:false},tooltip:{enabled:false}}},
    plugins:[heatLabels]});
}
const osHeat=makeHeat(291,osLogHR);
const dfsHeat=makeHeat(893,dfsLogHR);

// ---------- overlay: boxes, arrows, colour bar ----------
const ov=addCanvas(0,0,1285,977,10);const o=ov.getContext('2d');
function cellRect(chart,name){
  const i=cancers.indexOf(name),el=chart.getDatasetMeta(0).data[i];
  const cl=parseFloat(chart.canvas.style.left),ct=parseFloat(chart.canvas.style.top);
  return{l:cl+Math.min(el.x,el.base),r:cl+Math.max(el.x,el.base),t:ct+el.y-el.height/2,b:ct+el.y+el.height/2,cy:ct+el.y};
}
function drawBoxes(chart,hl){
  Object.keys(hl).forEach(n=>{const r=cellRect(chart,n);o.strokeStyle=hl[n]==='red'?BOX_RED:BOX_BLUE;o.lineWidth=2;o.strokeRect(r.l+1,r.t+1,r.r-r.l-2,r.b-r.t-2);});
}
function drawArrow(path,color){
  const n=path.length,[tx,ty]=path[n-1],[px,py]=path[n-2];
  const ang=Math.atan2(ty-py,tx-px),hl=10,hw=5.5;
  const bx=tx-Math.cos(ang)*hl,by=ty-Math.sin(ang)*hl;
  o.strokeStyle=color;o.lineWidth=3.6;o.lineJoin='miter';o.lineCap='butt';
  o.beginPath();o.moveTo(path[0][0],path[0][1]);for(let i=1;i<n-1;i++)o.lineTo(path[i][0],path[i][1]);o.lineTo(bx,by);o.stroke();
  o.fillStyle=color;o.beginPath();o.moveTo(tx,ty);
  o.lineTo(bx-Math.sin(ang)*hw,by+Math.cos(ang)*hw);o.lineTo(bx+Math.sin(ang)*hw,by-Math.cos(ang)*hw);o.closePath();o.fill();
}
drawBoxes(osHeat,osHighlight);drawBoxes(dfsHeat,dfsHighlight);
const osArrows=[
 {c:'ACC',col:ARROW_RED,p:[[392,'c'],[303,'c']]},
 {c:'LIHC',col:ARROW_RED,p:[[215,'c'],[304,'c']]},
 {c:'LUAD',col:ARROW_RED,p:[[392,'c'],[303,'c']]},
 {c:'MESO',col:ARROW_RED,p:[[215,'c'],[304,'c']]},
 {c:'PAAD',col:ARROW_RED,p:[[392,'c'],[303,'c']]},
 {c:'READ',col:ARROW_BLUE,p:[[215,764],[215,702],[304,702],[304,'c']]},
 {c:'THCA',col:ARROW_RED,p:[[392,786],[347,786],[347,'c'],[303,'c']]}
];
const dfsArrows=[
 {c:'ACC',col:ARROW_RED,p:[[808,'c'],[909,'c']]},
 {c:'LIHC',col:ARROW_RED,p:[[988,'c'],[902,'c']]},
 {c:'MESO',col:ARROW_RED,p:[[825,'c'],[909,'c']]},
 {c:'PAAD',col:ARROW_RED,p:[[988,'c'],[902,'c']]},
 {c:'STAD',col:ARROW_BLUE,p:[[820,'c'],[908,'c']]},
 {c:'UVM',col:ARROW_RED,p:[[988,'c'],[902,'c']]}
];
[[osHeat,osArrows],[dfsHeat,dfsArrows]].forEach(([ch,arr])=>arr.forEach(a=>{
  const cy=cellRect(ch,a.c).cy;drawArrow(a.p.map(q=>[q[0],q[1]==='c'?cy:q[1]]),a.col);
}));
// colour bar
(function(){
  const x=1212,w=23,top=860,bot=969,zero=915.5,ppu=75;
  for(let y=top;y<bot;y++){o.fillStyle=heatColor((zero-(y+0.5))/ppu);o.fillRect(x,y,w,1);}
  o.strokeStyle='#fff';o.lineWidth=1;o.font='12px "Liberation Sans"';o.fillStyle='#4d4d4d';o.textAlign='left';o.textBaseline='middle';
  colorbarTicks.forEach(v=>{const y=Math.round(zero-v*ppu)+0.5;o.beginPath();o.moveTo(x,y);o.lineTo(x+5,y);o.moveTo(x+w-5,y);o.lineTo(x+w,y);o.stroke();
    o.fillText(v===0?'0.0':(v<0?'\u2212'+Math.abs(v).toFixed(1):v.toFixed(1)),x+27,y);});
  o.font='15px "Liberation Sans"';o.fillStyle='#222';o.textBaseline='alphabetic';o.fillText('log10(HR)',1200,855);
  // thin panel border on the right
  o.strokeStyle='#c8c8c8';o.lineWidth=1;o.beginPath();o.moveTo(1281.5,730);o.lineTo(1281.5,977);o.stroke();
})();
</script>
</body></html>
